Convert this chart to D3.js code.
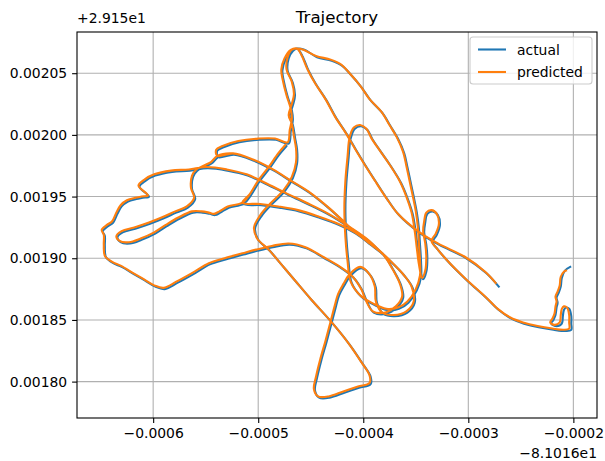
<!DOCTYPE html>
<html>
<head>
<meta charset="utf-8">
<script src="https://cdn.jsdelivr.net/npm/d3@7"></script>
<style>
  body { margin: 0; background: #fff; }
  svg { display: block; }
  text { font-family: "DejaVu Sans", sans-serif; fill: #000; }
</style>
</head>
<body>
<svg id="chart" width="605" height="461"></svg>
<script>
// Positions are stored in micro-degrees relative to the offsets shown on the axes.
const LON0 = -81.016;
const LAT0 = 29.15;

const actualLon = [
  -271,-283,-302,-328,-347,-366,-378,-388,-397,-407,-416,-426,-435,-445,-452,-458,-463,
  -468,-474,-477,-475,-472,-468,-467,-469,-471,
  -483,-499,-518,-533,-539,-538,
  -523,-504,-485,-468,-451,-432,-413,-432,-451,-468,-485,-504,-523,-538,
  -544,-551,-558,-562,-563,-560,
  -567,-578,-591,-603,-617,-629,-634,-631,-622,-611,-598,-587,-575,-562,
  -553,-546,-541,-536,-528,-514,
  -507,-499,-489,-480,-473,-480,-489,-499,-507,-514,
  -497,-480,-461,-442,-423,-407,-393,-380,-371,-364,-362,-368,-378,-390,-396,-401,-409,-421,-437,-454,-470,-486,
  -501,-514,-531,-546,-560,-577,-589,-598,-608,-618,-630,-638,-645,-646,-646,-648,-643,-638,
  -634,-630,-624,-616,-610,-604,-613,-607,-598,-582,-565,-548,
  -529,-510,-492,-473,-453,-432,-413,-396,-382,-371,-361,-353,-351,-358,-370,-381,-387,-388,-393,-402,-412,-418,-423,-426,
  -430,-435,-440,-444,-446,-442,-432,-418,-404,-393,-393,-401,-413,-430,
  -449,-465,-477,-489,-500,-503,-497,-488,-475,-467,-463,-463,-465,-467,-470,-467,-465,-467,-472,-471,-467,-463,
  -456,-444,-430,-420,-412,-402,-393,-382,-374,-367,-361,-358,-355,-352,-349,-347,-346,-345,-345,-349,-357,-366,-377,
  -389,-402,-411,-414,-416,-417,-416,-414,-412,-408,-402,-396,-391,-383,-374,-364,-358,-353,-350,-348,-346,-343,
  -340,-339,-340,-342,-341,-339,-334,-329,-327,-330,-334,-329,
  -321,-311,-300,-283,-271,-259,-247,-233,-219,-207,-202,-202,-202,-204,-207,-209,-210,-211,-216,-221,-219,-217,-216,-215,
  -216,-214,-212,-211,-208,-203
];
const actualLat = [
  1877,1888,1900,1911,1921,1935,1949,1962,1974,1988,2001,2014,2028,2041,2052,2064,2070,
  2068,2061,2052,2041,2031,2020,2012,2003,1993,
  1996,1996,1994,1990,1987,1982,
  1984,1979,1971,1962,1953,1940,1925,1940,1953,1962,1971,1979,1984,1982,
  1977,1974,1971,1966,1956,1948,
  1941,1937,1932,1928,1924,1921,1917,1913,1912,1915,1920,1926,1932,1937,
  1937,1936,1935,1937,1941,1944,
  1951,1962,1973,1984,1991,1984,1973,1962,1951,1944,
  1943,1941,1938,1933,1927,1920,1911,1902,1890,1878,1868,1860,1855,1856,1864,1874,1884,1892,1900,1908,1911,1909,
  1906,1903,1899,1895,1888,1880,1875,1877,1882,1887,1893,1896,1901,1910,1918,1922,1926,1929,
  1936,1942,1946,1948,1949,1950,1958,1963,1967,1970,1971,1973,
  1971,1967,1960,1952,1944,1935,1925,1915,1904,1895,1886,1876,1864,1856,1853,1855,1864,1876,1886,1892,1886,1878,1870,1861,
  1848,1832,1817,1803,1793,1787,1787,1791,1795,1798,1804,1815,1830,1848,
  1866,1882,1894,1906,1915,1924,1934,1943,1954,1965,1977,1988,1998,2008,2015,2024,2032,2042,2052,2062,2068,2070,
  2069,2063,2060,2056,2049,2039,2028,2018,2007,1997,1985,1974,1962,1950,1937,1924,1911,1897,1885,1874,1864,1859,1858,
  1862,1869,1880,1897,1916,1939,1962,1981,1997,2005,2007,2004,1996,1986,1975,1961,1949,1936,1921,1907,1894,1883,
  1889,1900,1911,1921,1929,1936,1938,1935,1927,1919,1913,1907,
  1899,1890,1881,1868,1858,1851,1847,1844,1842,1841,1842,1847,1853,1859,1860,1858,1853,1847,1845,1847,1850,1854,1860,1864,
  1868,1872,1877,1884,1890,1893
];

const predictedLon = [
  -274,-284,-303,-329,-348,-367,-379,-389,-398,-408,-417,-427,-436,-446,-453,-459,-463,
  -469,-475,-478,-476,-473,-469,-468,-470,-472,
  -484,-500,-519,-534,-540,-539,
  -524,-505,-486,-469,-452,-433,-414,-433,-452,-469,-486,-505,-524,-539,
  -545,-552,-559,-563,-564,-561,
  -568,-579,-592,-604,-618,-630,-635,-632,-623,-612,-599,-588,-576,-563,
  -554,-547,-542,-537,-529,-515,
  -508,-500,-490,-481,-474,-481,-490,-500,-508,-515,
  -498,-481,-462,-443,-424,-408,-394,-381,-372,-365,-363,-369,-379,-391,-397,-402,-410,-422,-438,-455,-471,-487,
  -502,-515,-532,-547,-561,-578,-590,-599,-609,-619,-631,-639,-646,-647,-647,-649,-644,-639,
  -635,-631,-625,-617,-611,-605,-614,-608,-599,-583,-566,-549,
  -530,-511,-493,-474,-454,-433,-414,-397,-383,-372,-362,-354,-352,-359,-371,-382,-388,-389,-394,-403,-413,-419,-424,-427,
  -431,-436,-441,-445,-447,-443,-433,-419,-405,-394,-394,-402,-414,-431,
  -450,-466,-478,-490,-501,-504,-498,-489,-476,-468,-464,-464,-466,-468,-471,-468,-466,-468,-473,-472,-468,-463,
  -457,-445,-431,-421,-413,-403,-394,-383,-375,-368,-362,-359,-356,-353,-350,-348,-347,-346,-346,-350,-358,-367,-378,
  -390,-403,-412,-415,-417,-418,-417,-415,-413,-409,-403,-397,-392,-384,-375,-365,-359,-354,-351,-349,-347,-344,
  -341,-340,-341,-343,-342,-340,-335,-330,-328,-331,-335,-330,
  -322,-312,-301,-284,-272,-260,-248,-234,-220,-209,-204,-204,-204,-206,-209,-211,-212,-213,-218,-222,-220,-218,-217,-216,
  -217,-215,-213,-212,-209,-207
];
const predictedLat = [
  1880,1889,1901,1912,1922,1936,1950,1963,1975,1989,2002,2015,2029,2042,2053,2065,2070,
  2069,2062,2053,2042,2032,2021,2013,2004,1994,
  1997,1997,1995,1991,1988,1983,
  1985,1980,1972,1963,1954,1941,1926,1941,1954,1963,1972,1980,1985,1983,
  1978,1975,1972,1967,1957,1949,
  1942,1938,1933,1929,1925,1922,1918,1914,1913,1916,1921,1927,1933,1938,
  1938,1937,1936,1938,1942,1945,
  1952,1963,1974,1985,1992,1985,1974,1963,1952,1945,
  1944,1942,1939,1934,1928,1921,1912,1903,1891,1879,1869,1861,1856,1857,1865,1875,1885,1893,1901,1909,1912,1910,
  1907,1904,1900,1896,1889,1881,1876,1878,1883,1888,1894,1897,1902,1911,1919,1923,1927,1930,
  1937,1943,1947,1949,1950,1951,1959,1964,1968,1971,1972,1974,
  1972,1968,1961,1953,1945,1936,1926,1916,1905,1896,1887,1877,1865,1857,1854,1856,1865,1877,1887,1893,1887,1879,1871,1862,
  1849,1833,1818,1804,1794,1788,1788,1792,1796,1799,1805,1816,1831,1849,
  1867,1883,1895,1907,1916,1925,1935,1944,1955,1966,1978,1989,1999,2009,2016,2025,2033,2043,2053,2063,2069,2070,
  2069,2064,2061,2057,2050,2040,2029,2019,2008,1998,1986,1975,1963,1951,1938,1925,1912,1898,1886,1875,1865,1860,1859,
  1863,1870,1881,1898,1917,1940,1963,1982,1998,2006,2008,2005,1997,1987,1976,1962,1950,1937,1922,1908,1895,1884,
  1890,1901,1912,1922,1930,1937,1939,1936,1928,1920,1914,1908,
  1900,1891,1882,1869,1859,1852,1848,1845,1843,1842,1843,1848,1854,1860,1861,1859,1854,1848,1846,1848,1851,1855,1861,1865,
  1869,1873,1878,1885,1889,1890
];

const xTickValues = [-600, -500, -400, -300, -200];
const yTickValues = [1800, 1850, 1900, 1950, 2000, 2050];
const seriesNames = ["actual", "predicted"];
const seriesColors = ["#1f77b4", "#ff7f0e"];
const titleText = "Trajectory";
const xOffsetText = "\u22128.1016e1";
const yOffsetText = "+2.915e1";

const svg = d3.select("#chart");
const plot = { left: 77, right: 597, top: 32, bottom: 418 };

const x = d3.scaleLinear().domain([-672.5, -177.5]).range([plot.left, plot.right]);
const y = d3.scaleLinear().domain([1770.5, 2083.4]).range([plot.bottom, plot.top]);

const minus = s => s.replace("-", "\u2212");
const fmtX = v => minus((v / 1e6).toFixed(4));
const fmtY = v => minus((v / 1e6).toFixed(5));

svg.append("defs").append("clipPath").attr("id", "clip")
  .append("rect").attr("x", plot.left).attr("y", plot.top)
  .attr("width", plot.right - plot.left).attr("height", plot.bottom - plot.top);

// grid
const grid = svg.append("g");
grid.selectAll(".gx").data(xTickValues).join("line")
  .attr("x1", d => x(d)).attr("x2", d => x(d))
  .attr("y1", plot.top).attr("y2", plot.bottom)
  .attr("stroke", "#b0b0b0").attr("stroke-width", 1.1);
grid.selectAll(".gy").data(yTickValues).join("line")
  .attr("y1", d => y(d)).attr("y2", d => y(d))
  .attr("x1", plot.left).attr("x2", plot.right)
  .attr("stroke", "#b0b0b0").attr("stroke-width", 1.1);

// trajectories
const series = [
  { name: seriesNames[0], color: seriesColors[0], lon: actualLon, lat: actualLat },
  { name: seriesNames[1], color: seriesColors[1], lon: predictedLon, lat: predictedLat }
];
const line = d3.line().x(d => x(d[0])).y(d => y(d[1])).curve(d3.curveCatmullRom.alpha(0.5));
svg.append("g").attr("clip-path", "url(#clip)")
  .selectAll("path").data(series).join("path")
  .attr("d", s => line(s.lon.map((v, i) => [v, s.lat[i]])))
  .attr("fill", "none")
  .attr("stroke", s => s.color)
  .attr("stroke-width", 2.1)
  .attr("stroke-linejoin", "round")
  .attr("stroke-linecap", "square");

// axes
const xAxis = d3.axisBottom(x).tickValues(xTickValues).tickFormat(fmtX).tickSizeOuter(0).tickSize(4.9).tickPadding(4.9);
const yAxis = d3.axisLeft(y).tickValues(yTickValues).tickFormat(fmtY).tickSizeOuter(0).tickSize(4.9).tickPadding(4.9);
const gx = svg.append("g").attr("transform", `translate(0,${plot.bottom})`).call(xAxis);
const gy = svg.append("g").attr("transform", `translate(${plot.left},0)`).call(yAxis);
[gx, gy].forEach(g => {
  g.select(".domain").remove();
  g.selectAll(".tick line").attr("stroke", "#000").attr("stroke-width", 1.1);
  g.selectAll(".tick text").attr("font-size", "13.9px").attr("font-family", "DejaVu Sans, sans-serif").attr("fill", "#000");
});

// frame
svg.append("rect")
  .attr("x", plot.left).attr("y", plot.top)
  .attr("width", plot.right - plot.left).attr("height", plot.bottom - plot.top)
  .attr("fill", "none").attr("stroke", "#000").attr("stroke-width", 1.1);

// title and offsets
svg.append("text").attr("x", (plot.left + plot.right) / 2).attr("y", 23)
  .attr("text-anchor", "middle").attr("font-size", "16.7px").text(titleText);
svg.append("text").attr("x", plot.left).attr("y", 23)
  .attr("font-size", "13.9px").text(yOffsetText);
svg.append("text").attr("x", plot.right).attr("y", 458)
  .attr("text-anchor", "end").attr("font-size", "13.9px").text(xOffsetText);

// legend
const lg = svg.append("g");
lg.append("rect").attr("x", 470).attr("y", 37).attr("width", 122).attr("height", 47)
  .attr("rx", 3).attr("fill", "#fff").attr("fill-opacity", 0.8)
  .attr("stroke", "#cccccc").attr("stroke-width", 1.1);
series.forEach((s, i) => {
  const yy = 49.5 + i * 22.5;
  lg.append("line").attr("x1", 478).attr("x2", 506).attr("y1", yy).attr("y2", yy)
    .attr("stroke", s.color).attr("stroke-width", 2.1);
  lg.append("text").attr("x", 517).attr("y", yy + 5).attr("font-size", "13.9px").text(s.name);
});
</script>
</body>
</html>
